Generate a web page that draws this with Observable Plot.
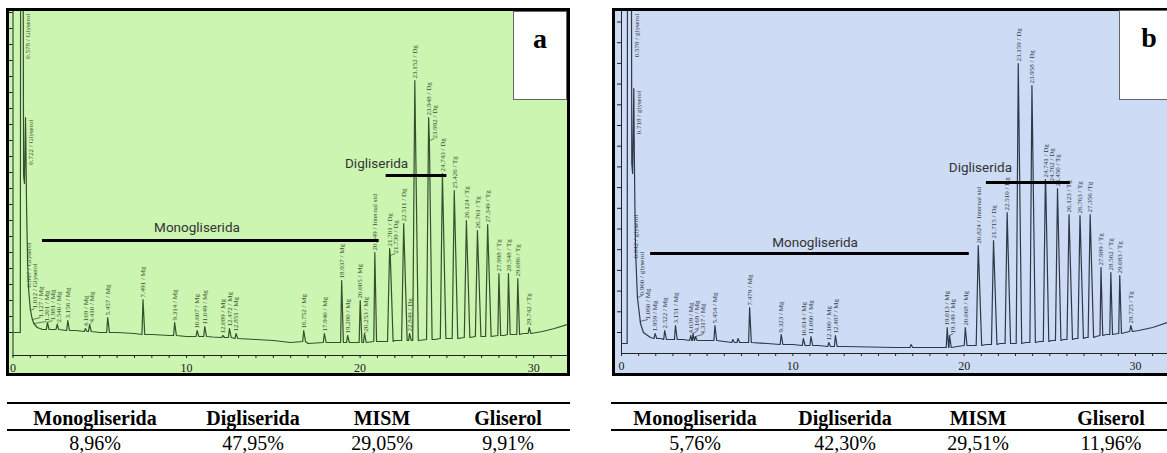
<!DOCTYPE html>
<html><head><meta charset="utf-8">
<script src="https://cdn.jsdelivr.net/npm/d3@7"></script>
<script src="https://cdn.jsdelivr.net/npm/@observablehq/plot@0.6"></script>
<style>
body{margin:0;background:#fff;}
#root{position:relative;width:1167px;height:453px;overflow:hidden;font-family:"Liberation Serif","Times New Roman",Times,serif;}
.frame{position:absolute;border:3px solid #000;box-sizing:border-box;}
.tag{position:absolute;background:#fff;border:1px solid #666;box-sizing:border-box;}
.tag span{position:absolute;left:0;right:0;top:13px;text-align:center;font:bold 28px/28px "Liberation Serif","Times New Roman",serif;color:#000;}
.rule{position:absolute;height:2px;background:#000;}
.cell{position:absolute;width:200px;text-align:center;font-family:"Liberation Serif","Times New Roman",Times,serif;font-size:20px;line-height:20px;color:#000;white-space:nowrap;}
.cell.h{font-weight:bold;}
</style></head><body><div id="root"></div><script>
// ---------------- Data: panel a ----------------
const frontA = [[0,23],[0.42,23],[0.45,600],[0.56,600],[0.61,180],[0.66,172],[0.722,238],[0.75,200],[0.78,150],[0.84,95],[0.9,66],[1.0,46],[1.1,37],[1.2,32],[1.4,28],[1.7,26]];
const baselineA = [[2.2,26],[3.6,25],[5,23],[6,23],[7,22],[8,21],[9,20],[10,19],[11.5,18.5],[13,17],[14,16],[15,15],[16,13],[17,12],[18,12],[19.6,13],[21,14],[22,15],[24.3,16],[26,18],[27,19],[28.3,20],[29.4,22],[30.5,24],[31.2,27],[31.95,31]];
const peaksA = [
  [1.981,33,26,"1.981 / Mg"],[2.540,31,26,"2.540 / Mg"],[3.156,35,25,"3.156 / Mg"],
  [4.169,27,24,"4.169 / Mg"],[4.410,31,24,"4.410 / Mg"],[5.457,38,23,"5.457 / Mg"],
  [7.491,56,21,"7.491 / Mg"],[9.314,33,20,"9.314 / Mg"],[10.607,25,19,"10.607 / Mg"],
  [11.049,29,19,"11.049 / Mg"],[12.089,20,18,"12.089 / Mg"],[12.472,27,18,"12.472 / Mg"],
  [12.851,22,17,"12.851 / Mg"],[16.752,25,14,"16.752 / Mg"],[17.940,22,13,"17.940 / Mg"],
  [18.937,75,13,"18.937 / Mg"],[19.280,20,13,"19.280 / Mg"],[20.005,55,13,"20.005 / Mg"],
  [20.253,22,13,"20.253 / Mg"],[20.849,103,14,"20.849 / Internal std"],[21.701,107,14,"21.701 / Dg"],
  [21.739,100,14,"21.739 / Dg"],[22.511,132,15,"22.511 / Dg"],[22.849,22,15,"22.849 / Dg"],
  [23.152,275,15,"23.152 / Dg"],[23.948,238,16,"23.948 / Dg"],[23.992,215,16,"23.992 / Dg"],
  [24.743,182,17,"24.743 / Dg"],[25.426,165,17,"25.426 / Tg"],[26.124,135,18,"26.124 / Tg"],
  [26.761,125,19,"26.761 / Tg"],[27.349,131,19,"27.349 / Tg"],[27.998,82,20,"27.998 / Tg"],
  [28.548,82,21,"28.548 / Tg"],[29.086,77,21,"29.086 / Tg"],[29.742,28,22,"29.742 / Tg"]
];
const markersA = [[0.578,600,"0.578 / Glyserol"],[0.722,238,"0.722 / Glyserol"],[0.897,66,"0.897 / Glyserol"],[1.012,45,"1.012 / Glyserol"],[1.127,36,"1.127 / Mg"],[1.201,32,"1.201 / Mg"]];
const bracketsA = [
  {name:"Monogliserida", from:1.7, to:21.1, level:115, tx:10.6, ty:128},
  {name:"Digliserida", from:21.5, to:25.0, level:180, tx:20.95, ty:192}
];

// ---------------- Data: panel b ----------------
const frontB = [[0,10],[0.33,10],[0.36,600],[0.56,600],[0.6,190],[0.65,180],[0.718,265],[0.74,215],[0.78,150],[0.82,103],[0.93,56],[1.11,30],[1.28,21],[1.69,16]];
const baselineB = [[2.3,15],[3.6,14],[5,13],[6,12],[7.2,11],[8.5,10],[10,9],[11.5,8],[13,7],[14.5,6.5],[16,6],[17.5,6],[18.6,6],[19.6,7],[20.5,8],[21.3,9],[22.1,10],[23.6,11],[24.4,12],[25.1,13],[25.8,14],[26.5,15],[27.1,16],[27.7,17],[28.3,19],[28.8,19.5],[29.4,21],[30.2,23],[31,26],[31.87,31]];
const peaksB = [
  [1.959,20,15,"1.959 / Mg"],[2.522,23,14,"2.522 / Mg"],[3.151,28,14,"3.151 / Mg"],
  [4.039,18,13,"4.039 / Mg"],[4.169,20,13,"4.169 / Mg"],[4.317,17,13,"4.317 / Mg"],
  [5.454,28,13,"5.454 / Mg"],[6.5,14,11,""],[6.8,15,11,""],[7.479,46,11,"7.479 / Mg"],
  [9.323,19,9,"9.323 / Mg"],[10.614,15,8,"10.614 / Mg"],[11.060,17,8,"11.060 / Mg"],
  [12.100,11,7,"12.100 / Mg"],[12.487,18,7,"12.487 / Mg"],[16.9,9,6,""],
  [19.013,26,6,"19.013 / Mg"],[19.149,18,6,"19.149 / Mg"],[20.068,26,8,"20.068 / Mg"],
  [20.824,108,8,"20.824 / Internal std"],[21.715,113,9,"21.715 / Dg"],[22.510,141,10,"22.510 / Dg"],
  [23.159,290,10,"23.159 / Dg"],[23.958,268,11,"23.958 / Dg"],[24.741,174,12,"24.741 / Dg"],
  [24.762,170,12,"24.762 / Dg"],[25.450,165,13,"25.450 / Tg"],[26.123,139,14,"26.123 / Tg"],
  [26.763,138,15,"26.763 / Tg"],[27.356,139,16,"27.356 /Tg"],[27.989,86,18,"27.989 / Tg"],
  [28.562,81,19,"28.562 / Tg"],[29.083,78,20,"29.083 / Tg"],[29.725,28,22,"29.725 / Tg"]
];
const markersB = [[0.578,600,"0.578 / glyserol"],[0.718,265,"0.718 / glyserol"],[0.842,93,"0.842 / glyserol"],[0.960,56,"0.960 / glyserol"],[1.060,32,"1.060 / Mg"]];
const bracketsB = [
  {name:"Monogliserida", from:1.7, to:20.3, level:100, tx:11.3, ty:111},
  {name:"Digliserida", from:21.3, to:26.2, level:171, tx:20.95, ty:186}
];

// ---------------- Table ----------------
const tableHeaders = ["Monogliserida","Digliserida","MISM","Gliserol"];
const tableA = ["8,96%","47,95%","29,05%","9,91%"];
const tableB = ["5,76%","42,30%","29,51%","11,96%"];
const panelLetters = ["a","b"];

// ---------------- Build ----------------
function buildPanel(cfg) {
  const {front, baseline, peaks, markers, brackets, xMax, yMax, width, height, marginLeft, marginBottom, yTicks, color} = cfg;
  const ppu = (width - marginLeft) / xMax;
  const pts = front.map(([t, v]) => ({t, v}));
  const lastFront = front[front.length - 1][0];
  const windows = [];
  let prevT = -Infinity;
  peaks.forEach(([t, apex, base]) => {
    const tall = apex - base > 90;
    const hl = tall ? 0.12 : 0.06, hr = tall ? 0.2 : 0.1;
    if (t - prevT < 0.1) pts.push({t, v: apex});
    else pts.push({t: t - hl, v: base}, {t, v: apex}, {t: t + hr, v: base});
    windows.push([t - hl - 0.05, t + hr + 0.05]);
    prevT = t;
  });
  baseline.forEach(([t, v]) => {
    if (t > lastFront && !windows.some(([a, b]) => t >= a && t <= b)) pts.push({t, v});
  });
  pts.sort((a, b) => a.t - b.t);

  const labs = [];
  peaks.forEach(([t, apex, base, label]) => { if (label) labs.push({t, v: apex, label}); });
  markers.forEach(([t, v, label]) => labs.push({t, v, label}));
  labs.sort((a, b) => a.t - b.t);
  const side = labs.filter(d => d.t < 0.8).map(d => ({...d, v: Math.min(d.v, yMax)}));
  const normal = labs.filter(d => d.t >= 0.8);
  const gap = 6 / ppu;
  const placed = [];
  normal.forEach(d => {
    const len = d.label.length * 3.3 + 4;
    let lx = d.t, moved = true, guard = 0;
    while (moved && guard++ < 50) {
      moved = false;
      for (const p of placed) {
        const vOverlap = d.v < p.v + p.len && p.v < d.v + len;
        if (vOverlap && Math.abs(lx - p.lx) < gap - 1e-9) { lx = p.lx + gap; moved = true; }
      }
    }
    placed.push({...d, lx, len});
  });
  const leaders = placed.filter(p => p.lx - p.t > 1e-6);

  return Plot.plot({
    width, height, marginLeft, marginRight: 0, marginTop: 0, marginBottom,
    style: {background: "transparent", fontFamily: "Liberation Serif, serif", fontSize: "12px", color: "#222", overflow: "visible"},
    x: {domain: [0, xMax], ticks: d3.range(0, Math.floor(xMax) + 1), tickSize: 3, tickPadding: 5,
        tickFormat: d => d % 10 === 0 ? String(d) : "", line: true, label: null},
    y: {domain: [0, yMax], ticks: yTicks, tickSize: 4, tickFormat: () => "", line: true, label: null},
    marks: [
      Plot.line(pts, {x: "t", y: "v", stroke: color, strokeWidth: 1.2, clip: true}),
      Plot.link(leaders, {x1: "t", y1: "v", x2: "lx", y2: d => d.v + 2, stroke: color, strokeWidth: 0.7}),
      Plot.text(placed, {x: "lx", y: "v", text: "label", rotate: -90, textAnchor: "start", lineAnchor: "middle", dy: -2, fontSize: 7, fill: color}),
      Plot.text(side, {x: "t", y: "v", text: "label", rotate: -90, textAnchor: "end", lineAnchor: "middle", dx: 5, dy: 2, fontSize: 7, fill: color}),
      Plot.ruleY(brackets, {y: "level", x1: "from", x2: "to", stroke: "#000", strokeWidth: 3}),
      Plot.text(brackets, {x: "tx", y: "ty", text: "name", fontSize: 13.5, fontFamily: "Roboto, sans-serif", fill: "#333"})
    ]
  });
}

const root = document.getElementById("root");
function addFrame(left, top, w, h, bg) {
  const f = document.createElement("div");
  f.className = "frame";
  Object.assign(f.style, {left: left + "px", top: top + "px", width: w + "px", height: h + "px", background: bg});
  root.appendChild(f);
}
function place(el, left, top) {
  el.style.position = "absolute"; el.style.left = left + "px"; el.style.top = top + "px";
  root.appendChild(el);
}
function addTag(letter, left, top, w, h) {
  const t = document.createElement("div");
  t.className = "tag";
  Object.assign(t.style, {left: left + "px", top: top + "px", width: w + "px", height: h + "px"});
  const s = document.createElement("span"); s.textContent = letter; t.appendChild(s);
  root.appendChild(t);
}

// Panel a
addFrame(6, 8, 564, 368, "#ccf5b2");
place(buildPanel({front: frontA, baseline: baselineA, peaks: peaksA, markers: markersA, brackets: bracketsA,
  xMax: 31.95, yMax: 344, width: 558, height: 362, marginLeft: 3.5, marginBottom: 18,
  yTicks: d3.range(23, 344, 16), color: "#34502c"}), 9, 11);
addTag(panelLetters[0], 513, 11, 54, 89);

// Panel b
addFrame(612, 8, 562, 368, "#cddcf4");
place(buildPanel({front: frontB, baseline: baselineB, peaks: peaksB, markers: markersB, brackets: bracketsB,
  xMax: 31.87, yMax: 342, width: 552, height: 362, marginLeft: 6, marginBottom: 20,
  yTicks: d3.range(21, 342, 20.7), color: "#2e3848"}), 615, 11);
addTag(panelLetters[1], 1119, 10, 60, 90);

// Tables
function addTable(x0, x1, centers, values) {
  [402, 429].forEach(y => {
    const r = document.createElement("div"); r.className = "rule";
    Object.assign(r.style, {left: x0 + "px", top: y + "px", width: (x1 - x0) + "px"});
    root.appendChild(r);
  });
  tableHeaders.forEach((h, i) => {
    const c = document.createElement("div"); c.className = "cell h"; c.textContent = h;
    Object.assign(c.style, {left: (centers[i] - 100) + "px", top: "408px"});
    root.appendChild(c);
  });
  values.forEach((v, i) => {
    const c = document.createElement("div"); c.className = "cell"; c.textContent = v;
    Object.assign(c.style, {left: (centers[i] - 100) + "px", top: "433px"});
    root.appendChild(c);
  });
}
addTable(7, 570, [95, 253, 382, 508], tableA);
addTable(611, 1167, [695, 845, 978, 1111], tableB);
</script></body></html>
